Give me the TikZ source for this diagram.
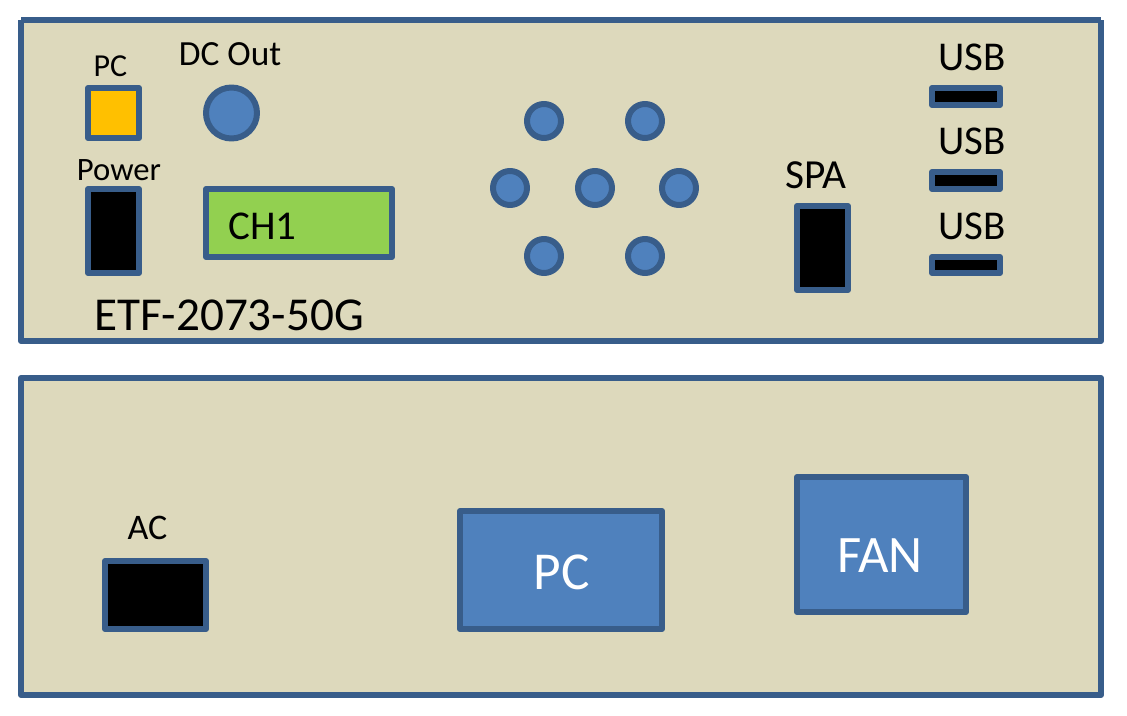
\documentclass[tikz,border=0pt]{standalone}
\usepackage{fontspec}
\setmainfont{Carlito}
\definecolor{panelfill}{HTML}{DDD9BC}
\definecolor{edgeblue}{HTML}{385D8A}
\definecolor{knobblue}{HTML}{4F81BD}
\definecolor{ledorange}{HTML}{FFC000}
\definecolor{lcdgreen}{HTML}{92D050}
\tikzset{every picture/.style={line width=4.5pt}}
\tikzset{part/.style={draw=edgeblue,line join=round,line width=4.5pt},
	panel/.style={part,fill=panelfill},
	port/.style={part,fill=black},
	knob/.style={part,fill=knobblue},
	label/.style={inner sep=0pt,text=black}}

\begin{document}
\begin{tikzpicture}[x=0.75pt,y=0.75pt,yscale=-1,xscale=1]
	\useasboundingbox (0,0) rectangle (1127,715);

	%Front panel
	\fill [panelfill] (21,20) rectangle (1101,341);
	\draw [part] (21,20) -- (1101,20);
	\draw [part] (1101,20) -- (1101,341) -- (21,341) -- (21,20);
	%Rear panel
	\draw [panel] (21,378) rectangle (1101,695);

	%PC switch
	\draw [part,fill=ledorange] (88,88) rectangle (139,138);
	%DC out
	\draw [knob] (231.5,113) circle (25.5);
	%Power
	\draw [port] (88,189) rectangle (139,273);
	%LCD
	\draw [part,fill=lcdgreen] (206,189) rectangle (392,257);

	%Keypad
	\foreach \kx/\ky in {544/121,645/121,510/188,595/188,679/188,544/256,645/256}
		\draw [knob] (\kx,\ky) circle (17);

	%SPA
	\draw [port] (797,206) rectangle (848,290);
	%USB ports
	\draw [port] (932,88) rectangle (1000,105);
	\draw [port] (932,172) rectangle (1000,189);
	\draw [port] (932,257) rectangle (1000,273);

	%AC
	\draw [port] (105,561) rectangle (206,629);
	%PC
	\draw [knob] (460,511) rectangle (662,629);
	%FAN
	\draw [knob] (797,477) rectangle (966,612);

	% Text Node
	\node [label,font=\fontsize{24}{26}\selectfont] (pclabel) at (110.5,66.5) {PC};
	% Text Node
	\node [label,font=\fontsize{26.5}{29}\selectfont] (dclabel) at (230,54) {DC Out};
	% Text Node
	\node [label,font=\fontsize{24.5}{27}\selectfont] (powerlabel) at (119,170.5) {Power};
	% Text Node
	\node [label,font=\fontsize{30.7}{33}\selectfont] (lcdlabel) at (262.5,226) {CH1};
	% Text Node
	\node [label,font=\fontsize{35.4}{38}\selectfont] (modellabel) at (229,315) {ETF-2073-50G};
	% Text Node
	\node [label,font=\fontsize{31}{34}\selectfont] (spalabel) at (816,175.5) {SPA};
	% Text Node
	\node [label,font=\fontsize{30.7}{33}\selectfont] (usbonelabel) at (972,57) {USB};
	% Text Node
	\node [label,font=\fontsize{30.7}{33}\selectfont] (usbtwolabel) at (972,141) {USB};
	% Text Node
	\node [label,font=\fontsize{30.7}{33}\selectfont] (usbthreelabel) at (972,226) {USB};
	% Text Node
	\node [label,font=\fontsize{27}{30}\selectfont] (aclabel) at (147.5,528) {AC};
	% Text Node
	\node [label,text=white,font=\fontsize{40}{44}\selectfont] (pcboxlabel) at (561.5,572) {PC};
	% Text Node
	\node [label,text=white,font=\fontsize{39.5}{44}\selectfont] (fanlabel) at (880,555.5) {FAN};

\end{tikzpicture}
\end{document}
